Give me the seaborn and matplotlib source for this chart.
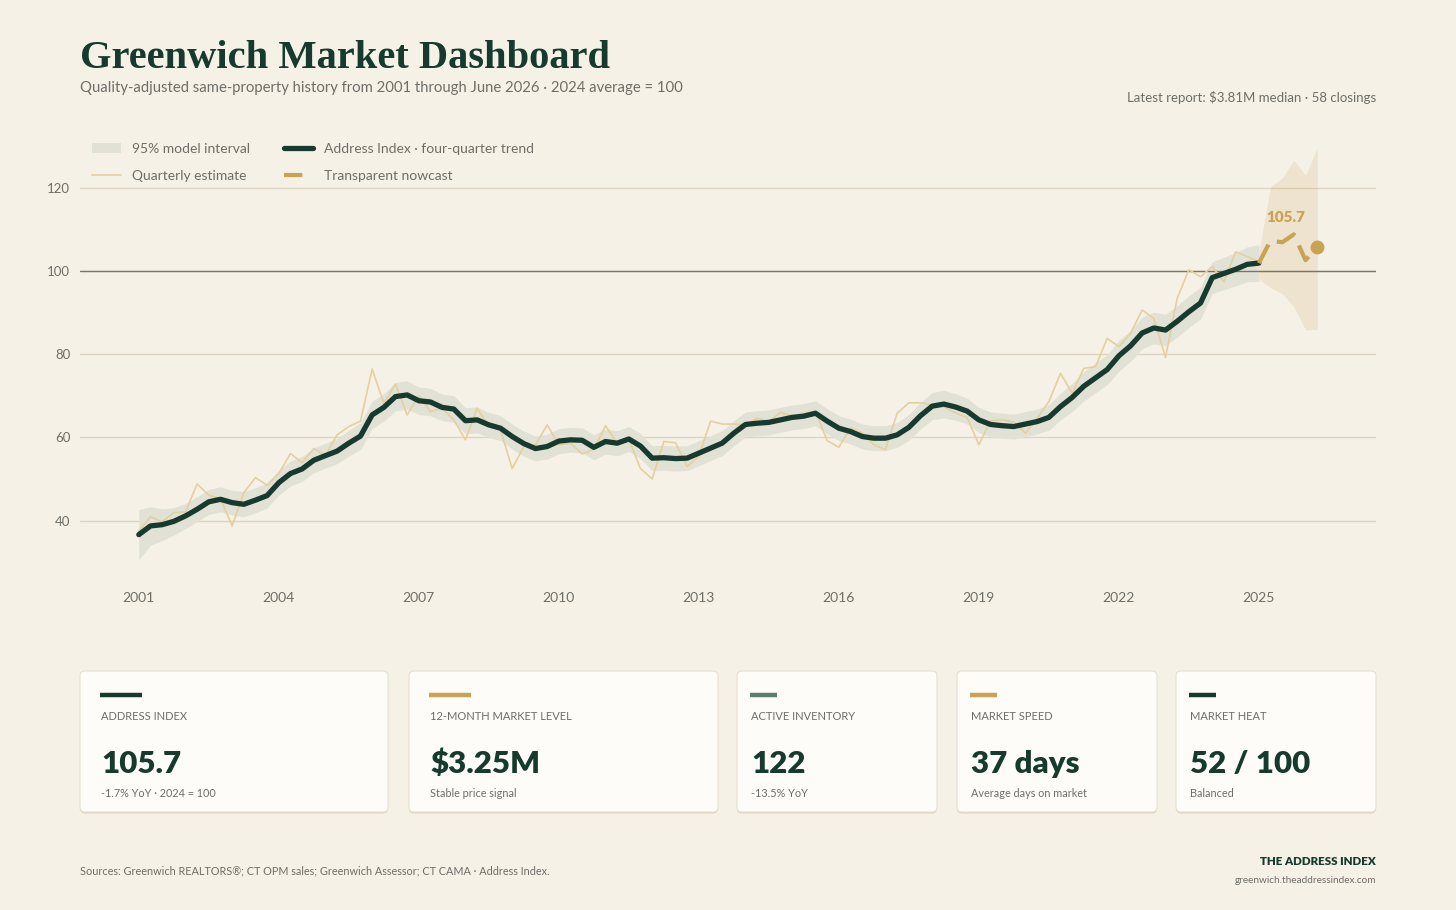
import numpy as np
import pandas as pd
import matplotlib
matplotlib.use("Agg")
import matplotlib.pyplot as plt
import seaborn as sns
from matplotlib.patches import FancyBboxPatch, Patch
from matplotlib.lines import Line2D

# -----------------------------
# DATA
# -----------------------------
quarters = pd.period_range("2001Q1", "2025Q1", freq="Q")

trend = [36.6, 38.7, 39.0, 39.8, 41.1, 42.7, 44.5, 45.1, 44.3, 43.9, 44.9, 46.0,
         49.1, 51.3, 52.4, 54.5, 55.6, 56.7, 58.6, 60.3, 65.4, 67.2, 69.8, 70.2,
         68.8, 68.5, 67.2, 66.8, 64.0, 64.2, 63.0, 62.2, 60.2, 58.5, 57.3, 57.8,
         59.1, 59.4, 59.3, 57.6, 59.0, 58.6, 59.6, 57.9, 55.0, 55.1, 54.9, 55.0,
         56.2, 57.4, 58.6, 61.0, 63.1, 63.4, 63.6, 64.2, 64.8, 65.1, 65.8, 63.9,
         62.2, 61.4, 60.2, 59.8, 59.8, 60.6, 62.4, 65.2, 67.5, 68.0, 67.3, 66.3,
         64.2, 63.1, 62.8, 62.6, 63.2, 63.8, 64.8, 67.4, 69.6, 72.3, 74.3, 76.3,
         79.6, 82.0, 85.1, 86.3, 85.8, 87.9, 90.2, 92.3, 98.4, 99.4, 100.4, 101.6,
         101.9]

quarterly = [37.5, 40.9, 39.7, 41.9, 42.1, 48.8, 46.1, 45.3, 38.7, 46.7, 50.3, 48.5,
             51.3, 56.1, 53.9, 57.3, 55.7, 60.6, 62.6, 63.9, 76.4, 68.2, 72.8, 65.4,
             70.0, 66.2, 67.0, 64.2, 59.4, 67.0, 62.6, 61.8, 52.5, 57.8, 58.2, 63.0,
             58.2, 58.6, 56.0, 57.1, 62.8, 58.6, 59.5, 52.5, 50.0, 59.0, 58.7, 53.0,
             55.4, 63.9, 63.2, 63.2, 63.0, 64.6, 63.8, 66.0, 65.1, 65.8, 66.2, 59.2,
             57.6, 62.2, 61.1, 58.2, 57.1, 65.8, 68.3, 68.3, 67.8, 67.3, 65.9, 64.8,
             58.2, 64.0, 64.2, 63.7, 61.0, 64.6, 68.6, 75.4, 70.6, 76.6, 77.0, 83.8,
             81.8, 85.0, 90.6, 88.6, 79.2, 93.4, 100.3, 98.6, 101.1, 97.4, 104.6, 103.5,
             102.2]

# half width of the 95% model interval around the trend
band_half = [6.0, 4.6, 3.8, 3.3, 3.0, 3.0, 3.0, 3.0, 3.0, 3.0, 3.0, 3.0,
             3.0, 3.0, 3.0, 3.0, 3.0, 3.0, 3.1, 3.2, 3.3, 3.3, 3.4, 3.4,
             3.3, 3.3, 3.2, 3.2, 3.1, 3.1, 3.0, 3.0, 3.0, 3.0, 3.0, 3.0,
             3.0, 3.0, 3.0, 3.0, 3.0, 3.0, 3.0, 3.0, 3.0, 3.0, 3.0, 3.0,
             3.0, 3.0, 3.0, 3.0, 3.0, 3.0, 3.0, 3.0, 3.0, 3.0, 3.0, 3.0,
             3.0, 3.0, 3.0, 3.0, 3.0, 3.0, 3.1, 3.2, 3.3, 3.3, 3.2, 3.1,
             3.0, 3.0, 3.0, 3.0, 3.0, 3.0, 3.1, 3.2, 3.4, 3.5, 3.6, 3.6,
             3.7, 3.7, 3.8, 3.8, 3.8, 3.8, 3.8, 3.8, 3.8, 3.9, 4.0, 4.2,
             4.4]

nowcast_quarters = pd.period_range("2025Q1", "2026Q2", freq="Q")
nowcast = [101.9, 107.3, 106.9, 108.8, 102.6, 105.7]
nowcast_lo = [98.0, 96.0, 94.6, 91.4, 85.8, 86.0]
nowcast_hi = [104.5, 120.3, 122.4, 126.7, 123.0, 129.6]

year_ticks = [2001, 2004, 2007, 2010, 2013, 2016, 2019, 2022, 2025]
value_ticks = [40, 60, 80, 100, 120]

card_labels = ["ADDRESS INDEX", "12-MONTH MARKET LEVEL", "ACTIVE INVENTORY", "MARKET SPEED", "MARKET HEAT"]
card_values = ["105.7", "$3.25M", "122", "37 days", "52 / 100"]
card_notes = ["-1.7% YoY \u00b7 2024 = 100", "Stable price signal", "-13.5% YoY",
              "Average days on market", "Balanced"]

# -----------------------------
# STYLE
# -----------------------------
BG = "#f5f1e7"
DARK = "#163a2d"
GOLD = "#c9a253"
TAN = "#e6cf9f"
BAND = "#e1e1d5"
GRID = "#ddd4c1"
REF = "#77766c"
GREY = "#6e6e68"
TEAL = "#5a7d70"
CARD = "#fdfcf8"

W, H = 1456, 910

sns.set_theme(style="white", rc={"axes.facecolor": BG, "figure.facecolor": BG})
plt.rcParams["font.family"] = ["Lato", "DejaVu Sans"]


def fx(px):
    return px / W


def fy(py):
    return 1 - py / H


def dec_year(periods):
    return np.asarray(periods.year + (periods.quarter - 1) / 4.0, dtype=float)


x = dec_year(quarters)
xn = dec_year(nowcast_quarters)
trend_a = np.array(trend)
half_a = np.array(band_half)

fig = plt.figure(figsize=(W / 100, H / 100), dpi=100, facecolor=BG)
ax = fig.add_axes([fx(80), fy(575), (1376 - 80) / W, (575 - 140) / H])
ax.set_facecolor(BG)

# -----------------------------
# CHART
# -----------------------------
ax.fill_between(xn, nowcast_lo, nowcast_hi, color=GOLD, alpha=0.17, lw=0, zorder=1)
ax.fill_between(x, trend_a - half_a, trend_a + half_a, color=BAND, lw=0, zorder=2)
ax.axhline(100, color=REF, lw=1.0, zorder=2.5)
sns.lineplot(x=x, y=quarterly, color=TAN, lw=1.2, ax=ax, zorder=3)
sns.lineplot(x=x, y=trend, color=DARK, lw=3.8, ax=ax, zorder=5,
             solid_joinstyle="round", solid_capstyle="round")
ax.plot(xn, nowcast, color=GOLD, lw=3.0, linestyle=(0, (5, 2.6)),
        dash_capstyle="butt", zorder=6)
ax.plot(xn[-1:], nowcast[-1:], "o", color=GOLD, ms=9, zorder=7)
ax.annotate(f"{nowcast[-1]:.1f}", xy=(xn[-1], nowcast[-1]), xytext=(-31, 30),
            textcoords="offset pixels", ha="center", va="center",
            fontsize=11, fontweight="heavy", color=GOLD)

ax.set_xlim(1999.74, 2027.51)
ax.set_ylim(26.9, 131.5)
ax.set_xticks(year_ticks)
ax.set_xticklabels([str(y) for y in year_ticks])
ax.set_yticks(value_ticks)
ax.tick_params(axis="x", length=0, pad=12, labelsize=10, labelcolor=GREY)
ax.tick_params(axis="y", length=0, pad=7, labelsize=9.5, labelcolor=GREY)
ax.grid(axis="y", color=GRID, lw=1.0)
ax.grid(axis="x", visible=False)
ax.set_axisbelow(True)
ax.set_xlabel("")
ax.set_ylabel("")
for s in ax.spines.values():
    s.set_visible(False)

handles = [
    Patch(facecolor=BAND, edgecolor="none", label="95% model interval"),
    Line2D([], [], color=TAN, lw=1.2, label="Quarterly estimate"),
    Line2D([], [], color=DARK, lw=3.8, solid_capstyle="round",
           label="Address Index \u00b7 four-quarter trend"),
    Line2D([], [], color=GOLD, lw=3.0, linestyle=(0, (4.4, 20)), label="Transparent nowcast"),
]
ax.legend(handles=handles, ncol=2, loc="upper left", bbox_to_anchor=(fx(92), fy(143)),
          bbox_transform=fig.transFigure, frameon=False, fontsize=10, labelcolor=GREY,
          handlelength=2.1, handletextpad=0.75, columnspacing=2.5, labelspacing=1.05,
          borderpad=0, borderaxespad=0)

# -----------------------------
# HEADER
# -----------------------------
fig.text(fx(80), fy(68), "Greenwich Market Dashboard", family="Liberation Serif",
         fontweight="bold", fontsize=29.2, color=DARK, va="baseline")
fig.text(fx(80), fy(92), "Quality-adjusted same-property history from 2001 through June 2026 "
         "\u00b7 2024 average = 100", fontsize=10.7, color=GREY, va="baseline")
fig.text(fx(1376), fy(102), "Latest report: $3.81M median \u00b7 58 closings",
         fontsize=9.5, color=GREY, ha="right", va="baseline")

# -----------------------------
# CARDS
# -----------------------------
card_left = [80, 409, 737, 957, 1176]
card_right = [388, 718, 937, 1157, 1376]
card_accent = [DARK, GOLD, TEAL, GOLD, DARK]
top, bottom = 671, 812

for left, right, lab, val, note, col in zip(card_left, card_right, card_labels,
                                            card_values, card_notes, card_accent):
    w = right - left
    shadow = FancyBboxPatch((left / 100, (H - bottom - 1.5) / 100), w / 100, (bottom - top) / 100,
                            boxstyle="round,pad=0,rounding_size=0.05",
                            transform=fig.dpi_scale_trans, facecolor="#ddd3bf",
                            edgecolor="none", zorder=1)
    card = FancyBboxPatch((left / 100, (H - bottom) / 100), w / 100, (bottom - top) / 100,
                          boxstyle="round,pad=0,rounding_size=0.05",
                          transform=fig.dpi_scale_trans, facecolor=CARD,
                          edgecolor="#e8e0cf", lw=0.8, zorder=2)
    fig.add_artist(shadow)
    fig.add_artist(card)
    pad = 0.065 * w
    bar_w = 0.135 * w
    fig.add_artist(Line2D([fx(left + pad), fx(left + pad + bar_w)], [fy(695), fy(695)],
                          transform=fig.transFigure, color=col, lw=3.2,
                          solid_capstyle="butt", zorder=3))
    fig.text(fx(left + pad + 1), fy(720), lab, fontsize=8, color=GREY, va="baseline", zorder=3)
    fig.text(fx(left + pad + 1), fy(773), val, fontsize=22.5, fontweight="heavy",
             color=DARK, va="baseline", zorder=3)
    fig.text(fx(left + pad + 1), fy(797), note, fontsize=7.8, color=GREY,
             va="baseline", zorder=3)

# -----------------------------
# FOOTER
# -----------------------------
fig.text(fx(80), fy(874), "Sources: Greenwich REALTORS\u00ae; CT OPM sales; Greenwich Assessor; "
         "CT CAMA \u00b7 Address Index.", fontsize=7.85, color=GREY, va="baseline")
fig.text(fx(1376), fy(865), "THE ADDRESS INDEX", fontsize=8.3, fontweight="heavy",
         color=DARK, ha="right", va="baseline")
fig.text(fx(1376), fy(883), "greenwich.theaddressindex.com", fontsize=7.2, color=GREY,
         ha="right", va="baseline")

fig.savefig("out.png", dpi=100, facecolor=BG)
plt.close(fig)
